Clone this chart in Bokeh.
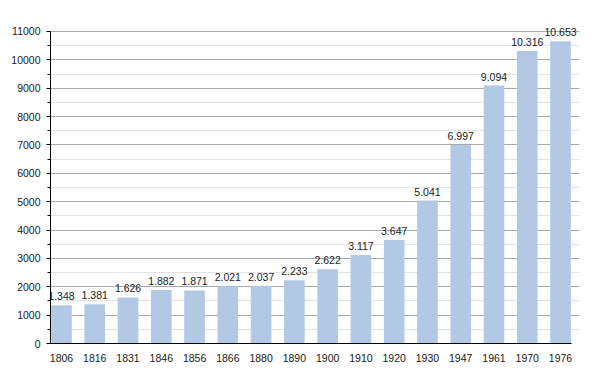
from bokeh.plotting import figure
from bokeh.models import ColumnDataSource, SingleIntervalTicker, FixedTicker, Range1d, LabelSet
from bokeh.core.properties import value
from bokeh.embed import file_html
from bokeh.resources import INLINE

years = ["1806", "1816", "1831", "1846", "1856", "1866", "1880", "1890",
         "1900", "1910", "1920", "1930", "1947", "1961", "1970", "1976"]
population = [1348, 1381, 1626, 1882, 1871, 2021, 2037, 2233,
              2622, 3117, 3647, 5041, 6997, 9094, 10316, 10653]
value_labels = ["1.348", "1.381", "1.626", "1.882", "1.871", "2.021", "2.037", "2.233",
                "2.622", "3.117", "3.647", "5.041", "6.997", "9.094", "10.316", "10.653"]

xs = list(range(len(years)))
src = ColumnDataSource(dict(x=xs, y=population, lab=value_labels))

FONT = "Liberation Sans"
Y_MAX = 11000
Y_TOP = 11282  # headroom so the top value label is not clipped
X_LO, X_HI = -0.33, len(years) - 1 + 0.33
X_END = X_HI + 0.24  # headroom on the right for the last label

p = figure(width=600, height=373, output_backend="svg", toolbar_location=None,
           x_range=Range1d(X_LO, X_END), y_range=Range1d(0, Y_TOP),
           min_border_left=50, min_border_right=21, min_border_top=23, min_border_bottom=30)
p.outline_line_color = None
p.background_fill_color = "white"

p.vbar(x="x", top="y", width=0.62, source=src, fill_color="#b1c9e4", line_color=None)

labels = LabelSet(x="x", y="y", text="lab", source=src, text_align="center",
                  text_baseline="alphabetic", y_offset=5, text_font=value(FONT),
                  text_font_size="10.5px", text_color="#1a1a1a")
p.add_layout(labels)

# grid
p.xgrid.grid_line_color = None
p.ygrid.ticker = SingleIntervalTicker(interval=1000, num_minor_ticks=2)
p.ygrid.bounds = (0, Y_MAX)
p.ygrid.grid_line_color = "#a8a8a8"
p.ygrid.grid_line_width = 1
p.ygrid.minor_grid_line_color = "#e2e2e2"
p.ygrid.level = "underlay"

# y axis
p.yaxis.ticker = SingleIntervalTicker(interval=1000, num_minor_ticks=2)
p.yaxis.bounds = (0, Y_MAX)
p.yaxis.axis_line_color = "black"
p.yaxis.major_tick_in = 0
p.yaxis.major_tick_out = 4
p.yaxis.minor_tick_in = 0
p.yaxis.minor_tick_out = 3
p.yaxis.major_label_standoff = 6
p.yaxis.major_label_text_font = FONT
p.yaxis.major_label_text_font_size = "10.5px"
p.yaxis.major_label_text_color = "#1a1a1a"

# x axis
p.xaxis.ticker = FixedTicker(ticks=xs)
p.xaxis.bounds = (X_LO, X_HI)
p.xaxis.major_label_overrides = {i: y for i, y in zip(xs, years)}
p.xaxis.axis_line_color = "black"
p.xaxis.major_tick_line_color = None
p.xaxis.minor_tick_line_color = None
p.xaxis.major_label_standoff = 4
p.xaxis.major_label_text_font = FONT
p.xaxis.major_label_text_font_size = "10.5px"
p.xaxis.major_label_text_color = "#1a1a1a"

open("out.html", "w").write(file_html(p, INLINE))
